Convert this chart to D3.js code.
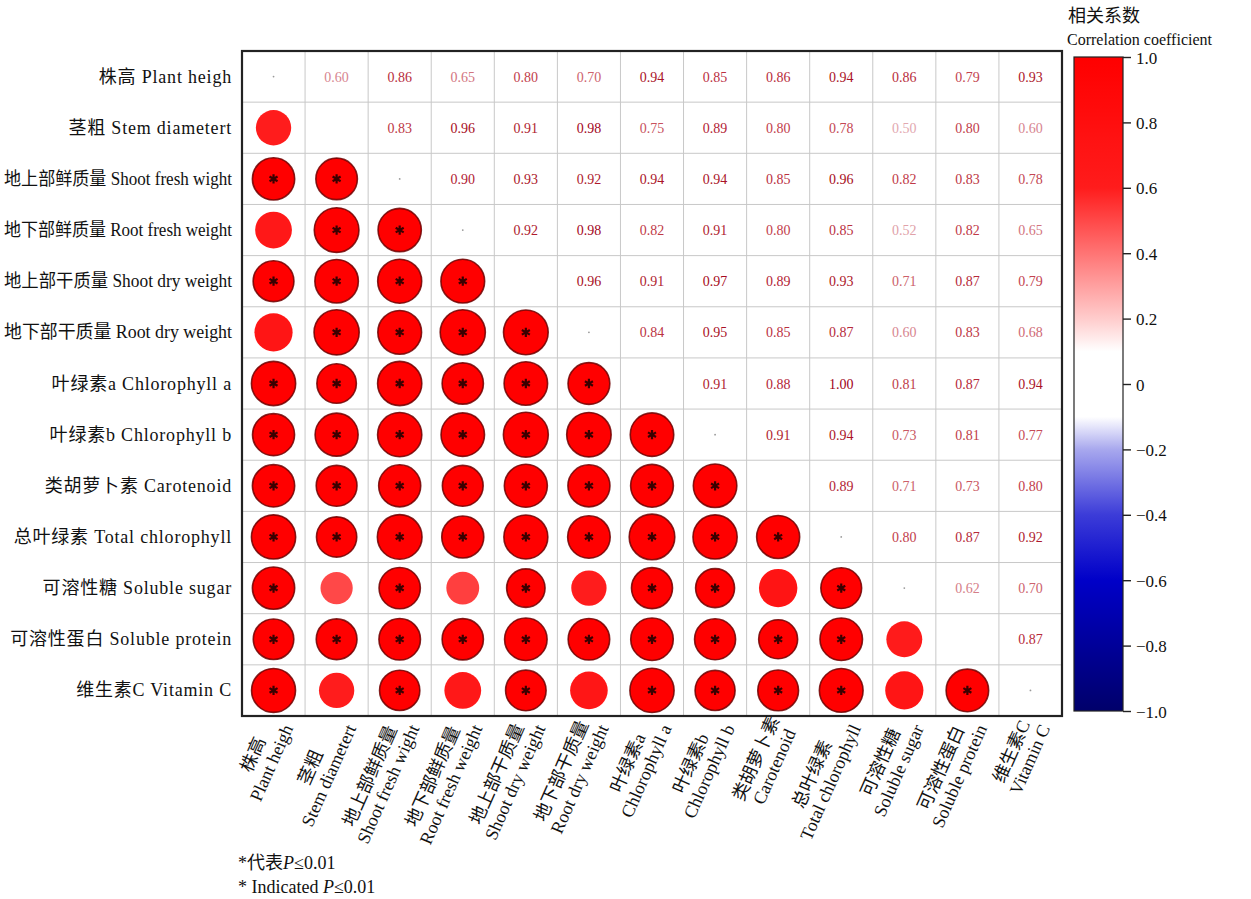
<!DOCTYPE html>
<html>
<head>
<meta charset="utf-8">
<script src="https://cdn.jsdelivr.net/npm/d3@7"></script>
<style>
body { margin: 0; background: #fff; }
text { font-family: "Liberation Serif", "Noto Sans CJK SC", serif; }
</style>
</head>
<body>
<svg id="chart" width="1251" height="899"></svg>
<script>
// variable names
var namesCn = ["株高", "茎粗", "地上部鲜质量", "地下部鲜质量", "地上部干质量", "地下部干质量",
               "叶绿素a", "叶绿素b", "类胡萝卜素", "总叶绿素", "可溶性糖", "可溶性蛋白", "维生素C"];
var namesEn = ["Plant heigh", "Stem diametert", "Shoot fresh wight", "Root fresh weight", "Shoot dry weight",
               "Root dry weight", "Chlorophyll a", "Chlorophyll b", "Carotenoid", "Total chlorophyll",
               "Soluble sugar", "Soluble protein", "Vitamin C"];
var rowLabels = ["株高 Plant heigh", "茎粗 Stem diametert", "地上部鲜质量 Shoot fresh wight",
                 "地下部鲜质量 Root fresh weight", "地上部干质量 Shoot dry weight", "地下部干质量 Root dry weight",
                 "叶绿素a Chlorophyll a", "叶绿素b Chlorophyll b", "类胡萝卜素 Carotenoid",
                 "总叶绿素 Total chlorophyll", "可溶性糖  Soluble sugar", "可溶性蛋白 Soluble protein",
                 "维生素C Vitamin C"];

// upper triangle, row i holds columns i+1 .. 12
var corr = [
  [0.60, 0.86, 0.65, 0.80, 0.70, 0.94, 0.85, 0.86, 0.94, 0.86, 0.79, 0.93],
  [0.83, 0.96, 0.91, 0.98, 0.75, 0.89, 0.80, 0.78, 0.50, 0.80, 0.60],
  [0.90, 0.93, 0.92, 0.94, 0.94, 0.85, 0.96, 0.82, 0.83, 0.78],
  [0.92, 0.98, 0.82, 0.91, 0.80, 0.85, 0.52, 0.82, 0.65],
  [0.96, 0.91, 0.97, 0.89, 0.93, 0.71, 0.87, 0.79],
  [0.84, 0.95, 0.85, 0.87, 0.60, 0.83, 0.68],
  [0.91, 0.88, 1.00, 0.81, 0.87, 0.94],
  [0.91, 0.94, 0.73, 0.81, 0.77],
  [0.89, 0.71, 0.73, 0.80],
  [0.80, 0.87, 0.92],
  [0.62, 0.70],
  [0.87]
];

// significance (P<=0.01) in lower triangle, row i holds columns 0 .. i-1
var sig = ["", "0", "11", "011", "1111", "01111", "111111", "1111111", "11111111",
           "111111111", "1010101101", "11111111110", "101010111101"];

// small dot on the diagonal
var diagDot = [1, 0, 1, 1, 0, 1, 0, 1, 0, 1, 1, 0, 1];

var legendTicks = [-1, -0.8, -0.6, -0.4, -0.2, 0, 0.2, 0.4, 0.6, 0.8, 1];

var n = namesCn.length;
var svg = d3.select("#chart");

var x = d3.scaleBand().domain(d3.range(n)).range([242, 1062]);
var y = d3.scaleBand().domain(d3.range(n)).range([51, 716]);

var color = d3.scaleLinear()
  .domain([-1, -0.6, -0.4, -0.2, -0.1, 0.1, 0.2, 0.4, 0.6, 1])
  .range(["#00006a", "#0000c8", "#3c3cd8", "#a8a8ee", "#ffffff", "#ffffff", "#ffcccc", "#ff7474", "#ff1c1c", "#ff0000"]);
var textColor = d3.scaleLinear().domain([0.5, 0.8, 1]).range(["#e2a8b0", "#c2404c", "#a00018"]).clamp(true);
var radius = d3.scaleSqrt().domain([0, 1]).range([0, 22.8]);

// build cell list
var cells = [];
corr.forEach(function(row, i) {
  row.forEach(function(v, k) {
    var j = i + 1 + k;
    cells.push({ r: i, c: j, v: v, upper: true });
    cells.push({ r: j, c: i, v: v, upper: false, sig: sig[j][i] === "1" });
  });
});

// grid
var grid = svg.append("g");
d3.range(1, n).forEach(function(k) {
  grid.append("line").attr("x1", x(k)).attr("x2", x(k)).attr("y1", 51).attr("y2", 716)
    .attr("stroke", "#c8c8c8").attr("stroke-width", 1);
  grid.append("line").attr("x1", 242).attr("x2", 1062).attr("y1", y(k)).attr("y2", y(k))
    .attr("stroke", "#c8c8c8").attr("stroke-width", 1);
});

var bw = x.bandwidth(), bh = y.bandwidth();

// upper numbers
svg.append("g").selectAll("text")
  .data(cells.filter(function(d) { return d.upper; }))
  .enter().append("text")
  .attr("x", function(d) { return x(d.c) + bw / 2; })
  .attr("y", function(d) { return y(d.r) + bh / 2 + 5; })
  .attr("text-anchor", "middle")
  .style("font-size", "14px")
  .style("fill", function(d) { return textColor(d.v); })
  .text(function(d) { return d.v.toFixed(2); });

// lower circles
var lower = svg.append("g").selectAll("g")
  .data(cells.filter(function(d) { return !d.upper; }))
  .enter().append("g")
  .attr("transform", function(d) { return "translate(" + (x(d.c) + bw / 2) + "," + (y(d.r) + bh / 2) + ")"; });

lower.append("circle")
  .attr("r", function(d) { return radius(Math.abs(d.v)); })
  .attr("fill", function(d) { return d.sig ? "#ff0000" : color(d.v); })
  .attr("stroke", function(d) { return d.sig ? "#6e0000" : "none"; })
  .attr("stroke-width", 1.6)
  .attr("stroke-opacity", 0.85);

lower.filter(function(d) { return d.sig; }).append("path")
  .attr("d", d3.symbol(d3.symbolAsterisk, 60))
  .attr("stroke", "#3a0000")
  .attr("stroke-width", 2.2)
  .attr("fill", "none");

// diagonal dots
svg.append("g").selectAll("circle")
  .data(d3.range(n).filter(function(i) { return diagDot[i]; }))
  .enter().append("circle")
  .attr("cx", function(i) { return x(i) + bw / 2; })
  .attr("cy", function(i) { return y(i) + bh / 2; })
  .attr("r", 0.9)
  .attr("fill", "#999");

// frame
svg.append("rect").attr("x", 242).attr("y", 51).attr("width", 820).attr("height", 665)
  .attr("fill", "none").attr("stroke", "#222").attr("stroke-width", 2.2);

// row labels (squeeze the longest ones so they stay inside the page)
svg.append("g").selectAll("text")
  .data(rowLabels).enter().append("text")
  .attr("x", 232)
  .attr("y", function(d, i) { return y(i) + bh / 2 + 6; })
  .attr("text-anchor", "end")
  .style("font-size", "18px")
  .style("letter-spacing", "0.8px")
  .style("fill", "#111")
  .text(function(d) { return d; })
  .each(function() {
    var w = this.getComputedTextLength();
    if (w > 228) {
      d3.select(this).attr("textLength", 228).attr("lengthAdjust", "spacingAndGlyphs")
        .style("letter-spacing", null);
    }
  });

// column labels, two lines, rotated
var colLab = svg.append("g").selectAll("g")
  .data(d3.range(n)).enter().append("g")
  .attr("transform", function(i) { return "translate(" + (x(i) + bw / 2 + 20) + ",728) rotate(-66)"; });

colLab.each(function(i) {
  var g = d3.select(this);
  var en = g.append("text").attr("x", 0).attr("y", 0).attr("text-anchor", "end")
    .style("font-size", "18px").style("fill", "#111").text(namesEn[i]);
  var cn = g.append("text").attr("x", 0).attr("y", -20).attr("text-anchor", "end")
    .style("font-size", "18px").style("fill", "#111").text(namesCn[i]);
  var we = en.node().getComputedTextLength(), wc = cn.node().getComputedTextLength();
  var wm = Math.max(we, wc);
  en.attr("x", -(wm - we) / 2);
  cn.attr("x", -(wm - wc) / 2);
});

// colour bar
var cbY = d3.scaleLinear().domain([-1, 1]).range([711, 57]);
var defs = svg.append("defs");
var grad = defs.append("linearGradient").attr("id", "cb").attr("x1", 0).attr("y1", 1).attr("x2", 0).attr("y2", 0);
d3.range(-1, 1.0001, 0.05).forEach(function(v) {
  grad.append("stop").attr("offset", ((v + 1) / 2 * 100) + "%").attr("stop-color", color(v));
});
svg.append("rect").attr("x", 1074).attr("y", 57).attr("width", 49).attr("height", 654)
  .attr("fill", "url(#cb)").attr("stroke", "#222").attr("stroke-width", 1.2);

var cbAxis = svg.append("g").attr("transform", "translate(1123,0)")
  .call(d3.axisRight(cbY).tickValues(legendTicks).tickSize(8).tickPadding(5)
    .tickFormat(function(d) { return d === 0 ? "0" : d3.format(".1f")(d); }));
cbAxis.select(".domain").remove();
cbAxis.selectAll("line").attr("stroke", "#222").attr("stroke-width", 1.4);
cbAxis.selectAll("text").style("font-size", "17px").style("font-family", "Liberation Serif").attr("fill", "#111")
  .attr("dy", "0.36em");

svg.append("text").attr("x", 1068).attr("y", 22).style("font-size", "18px").style("fill", "#111").text("相关系数");
svg.append("text").attr("x", 1067).attr("y", 45).style("font-size", "16px").style("fill", "#111").text("Correlation coefficient");

// footnote
var f1 = svg.append("text").attr("x", 238).attr("y", 869).style("font-size", "18px").style("fill", "#111");
f1.append("tspan").text("*代表");
f1.append("tspan").style("font-style", "italic").text("P");
f1.append("tspan").text("≤0.01");
var f2 = svg.append("text").attr("x", 238).attr("y", 893).style("font-size", "18px").style("fill", "#111");
f2.append("tspan").text("* Indicated ");
f2.append("tspan").style("font-style", "italic").text("P");
f2.append("tspan").text("≤0.01");
</script>
</body>
</html>
